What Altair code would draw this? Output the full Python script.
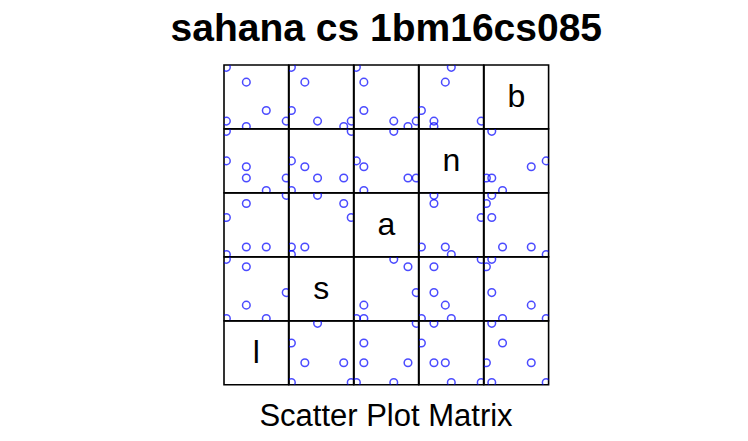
import altair as alt
import pandas as pd

# Variables (diagonal order: bottom-left to top-right)
var_names = ["l", "s", "a", "n", "b"]

l = [1, 1, 2, 2, 3, 4]
s = [10, 90, 28, 80, 10, 45]
a = [5, 55, 15, 74, 15, 85]
n = [50, 100, 40, 21, 0, 21]
b = [100, 9, 75, 0, 27, 9]

title_text = "sahana cs 1bm16cs085"
xlab_text = "Scatter Plot Matrix"

cols = {"l": l, "s": s, "a": a, "n": n, "b": b}
norm = {}
for k, vals in cols.items():
    lo, hi = min(vals), max(vals)
    norm[k] = [(v - lo) / (hi - lo) for v in vals]

rows = []
for xv in var_names:
    for yv in var_names:
        for i in range(len(l)):
            rows.append({"xvar": xv, "yvar": yv, "obs": i,
                         "xval": norm[xv][i], "yval": norm[yv][i]})
df = pd.DataFrame(rows)

dom = [-0.04, 1.04]
W, H = 64.6, 63.8

points = alt.Chart().mark_point(
    shape="circle", filled=False, color="blue", size=58, strokeWidth=1.5, clip=True
).encode(
    x=alt.X("xval:Q", scale=alt.Scale(domain=dom, nice=False, zero=False), axis=None),
    y=alt.Y("yval:Q", scale=alt.Scale(domain=dom, nice=False, zero=False), axis=None),
).transform_filter("datum.xvar != datum.yvar")

labels = alt.Chart().mark_text(
    fontSize=32, font="Liberation Sans", color="black", baseline="middle", align="center"
).encode(
    x=alt.value(W / 2),
    y=alt.value(H / 2),
    text="xvar:N",
).transform_filter("datum.xvar == datum.yvar && datum.obs == 0")

chart = alt.layer(points, labels, data=df).properties(width=W, height=H).facet(
    row=alt.Row("yvar:N", sort=var_names[::-1], title=None,
                header=alt.Header(labels=False)),
    column=alt.Column("xvar:N", sort=var_names, title=xlab_text,
                      header=alt.Header(labels=False, titleOrient="bottom",
                                        titleFontSize=31, titleFont="Liberation Sans",
                                        titleFontWeight="normal", titleColor="black",
                                        titlePadding=7)),
    spacing=0,
    bounds="flush",
).properties(
    title=alt.TitleParams(title_text, fontSize=39, font="Liberation Sans",
                          fontWeight="bold", color="black", anchor="middle", offset=15),
    padding={"left": 162, "top": 2, "right": 5, "bottom": 5},
).configure(
    font="Liberation Sans"
).configure_view(
    stroke="black", strokeWidth=1.6
)

chart.save("out.html", embed_options={"renderer": "svg", "actions": False})
